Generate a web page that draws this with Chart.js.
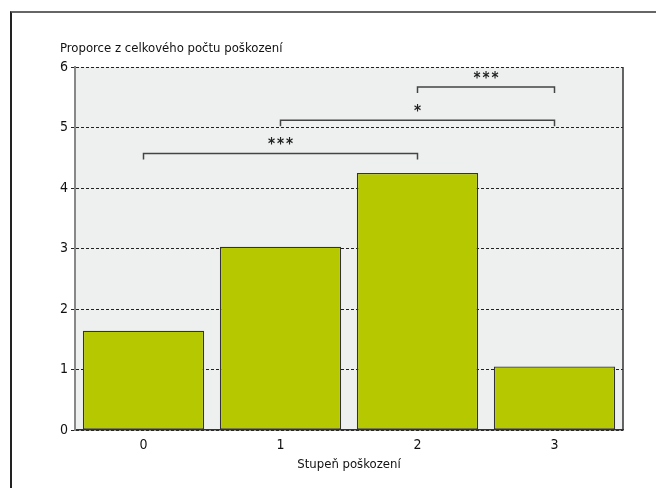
<!DOCTYPE html>
<html>
<head>
<meta charset="utf-8">
<script src="https://cdn.jsdelivr.net/npm/chart.js@4"></script>
<style>
  html, body { margin: 0; padding: 0; background: #fff; }
  #wrap { position: relative; width: 656px; height: 488px; overflow: hidden; }
  #frame { position: absolute; left: 10px; top: 11px; width: 700px; height: 600px;
           border-left: 2px solid #222; border-top: 2px solid #666; }
  canvas { position: absolute; left: 0; top: 0; }
</style>
</head>
<body>
<div id="wrap">
  <div id="frame"></div>
  <canvas id="chart" width="656" height="488"></canvas>
</div>
<script>
const categories = ["0", "1", "2", "3"];
const values = [1.64, 3.03, 4.25, 1.05];
const yTicks = [0, 1, 2, 3, 4, 5, 6];

// significance brackets
const bracketFrom = [0, 1, 2];
const bracketTo = [2, 3, 3];
const bracketY = [4.57, 5.12, 5.67];
const bracketLabel = ["***", "*", "***"];

const FONT = "'Liberation Sans Narrow', 'DejaVu Sans Condensed', 'Arial Narrow', sans-serif";

const extras = {
  id: "extras",
  beforeDraw(chart) {
    const { ctx, chartArea: a } = chart;
    ctx.save();
    ctx.fillStyle = "#eeefef";
    ctx.fillRect(a.left, a.top, a.right - a.left, a.bottom - a.top);
    ctx.restore();
  },
  afterDraw(chart) {
    const { ctx, chartArea: a, scales: { x, y } } = chart;
    ctx.save();
    // right border of plot
    ctx.strokeStyle = "#333";
    ctx.lineWidth = 1.5;
    ctx.beginPath();
    ctx.moveTo(a.right, a.top);
    ctx.lineTo(a.right, a.bottom);
    ctx.stroke();

    // brackets
    ctx.strokeStyle = "#444";
    ctx.lineWidth = 1.5;
    ctx.fillStyle = "#222";
    ctx.font = "bold 15px " + FONT;
    ctx.textAlign = "center";
    ctx.textBaseline = "middle";
    bracketFrom.forEach((f, i) => {
      const x1 = x.getPixelForValue(f);
      const x2 = x.getPixelForValue(bracketTo[i]);
      const yy = y.getPixelForValue(bracketY[i]);
      ctx.beginPath();
      ctx.moveTo(x1, yy + 6);
      ctx.lineTo(x1, yy);
      ctx.lineTo(x2, yy);
      ctx.lineTo(x2, yy + 6);
      ctx.stroke();
      // spread the stars a little
      const chars = bracketLabel[i].split("");
      const step = 9;
      const cx = (x1 + x2) / 2 - (chars.length - 1) * step / 2;
      chars.forEach((c, k) => ctx.fillText(c, cx + k * step, yy - 8));
    });

    // titles
    ctx.fillStyle = "#111";
    ctx.font = "13px " + FONT;
    ctx.textAlign = "left";
    ctx.fillText("Proporce z celkového počtu poškození", 60, 49);
    ctx.textAlign = "center";
    ctx.fillText("Stupeň poškození", (a.left + a.right) / 2, 465);
    ctx.restore();
  }
};

new Chart(document.getElementById("chart"), {
  type: "bar",
  data: {
    labels: categories,
    datasets: [{
      data: values,
      backgroundColor: "#b5c800",
      borderColor: "#333",
      borderWidth: 1.3,
      borderSkipped: false,
      barPercentage: 0.885,
      categoryPercentage: 1
    }]
  },
  options: {
    responsive: false,
    animation: false,
    layout: { padding: { left: 0, right: 33, top: 67, bottom: 0 } },
    plugins: { legend: { display: false }, tooltip: { enabled: false } },
    scales: {
      x: {
        grid: { display: false, drawTicks: false, tickLength: 0 },
        border: { display: true, color: "#333", width: 1.5 },
        ticks: { color: "#111", font: { family: FONT, size: 14 }, padding: 7 },
        afterFit(s) { s.height = 58; }
      },
      y: {
        min: 0,
        max: 6,
        afterBuildTicks(s) { s.ticks = yTicks.map(v => ({ value: v })); },
        grid: {
          color: "#222",
          tickBorderDash: [],
          tickLength: 4,
          tickColor: "#222"
        },
        border: { display: true, color: "#888", width: 2, dash: [3, 2] },
        ticks: { color: "#111", font: { family: FONT, size: 14 }, padding: 3 },
        afterFit(s) { s.width = 75; }
      }
    }
  },
  plugins: [extras]
});
</script>
</body>
</html>
